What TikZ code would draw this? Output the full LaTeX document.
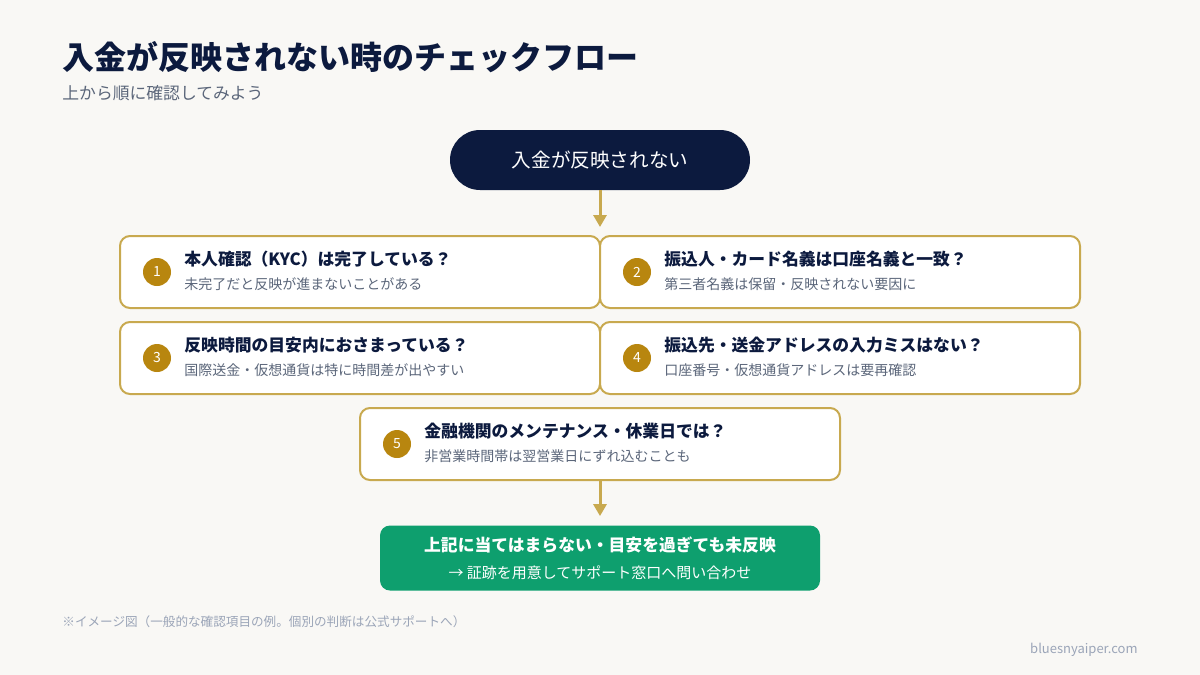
\documentclass[tikz,border=0pt]{standalone}
\usepackage{fontspec}
\setmainfont{Noto Sans CJK JP}
\usepackage{xcolor}
\usetikzlibrary{arrows.meta,positioning}

\definecolor{navy}{HTML}{0C1A3E}
\definecolor{gold}{HTML}{C8A94F}
\definecolor{numgold}{HTML}{B8860F}
\definecolor{okgreen}{HTML}{0E9F6E}
\definecolor{subgrey}{HTML}{5B667A}
\definecolor{footgrey}{HTML}{9BA5B8}
\definecolor{paper}{HTML}{F9F8F5}

\begin{document}
\begin{tikzpicture}[
    x=0.5pt, y=-0.5pt,
    flow/.style={draw=gold, line width=1.5pt, -{Triangle[width=6.5pt,length=6pt]}},
    chk/.style={draw=gold, line width=1pt, fill=white, rounded corners=5pt,
                minimum width=240pt, minimum height=36pt},
    num/.style={circle, fill=numgold, text=white, minimum size=14pt, inner sep=0pt,
                font=\fontsize{7}{8}\selectfont},
    qtxt/.style={anchor=west, inner sep=0pt, text=navy, font=\fontsize{8.4}{10}\selectfont\bfseries},
    htxt/.style={anchor=west, inner sep=0pt, text=subgrey, font=\fontsize{7}{8}\selectfont}
]
    \fill[paper] (0,0) rectangle (1200,675);
    \useasboundingbox (0,0) rectangle (1200,675);

    % heading
    \node[anchor=west, inner sep=0pt, text=navy, font=\fontsize{16}{19}\selectfont\bfseries]
        (title) at (62,57) {入金が反映されない時のチェックフロー};
    \node[anchor=west, inner sep=0pt, text=subgrey, font=\fontsize{8.4}{10}\selectfont]
        (sub) at (62,93) {上から順に確認してみよう};

    % start
    \node[rounded corners=15pt, fill=navy, text=white, minimum width=150pt,
          minimum height=30pt, font=\fontsize{9.8}{12}\selectfont] (start) at (600,160) {入金が反映されない};

    % checks
    \node[chk] (b1) at (360,272) {};
    \node[chk] (b2) at (840,272) {};
    \node[chk] (b3) at (360,358) {};
    \node[chk] (b4) at (840,358) {};
    \node[chk] (b5) at (600,444) {};

    \node[num] (n1) at (157,272) {1};
    \node[num] (n2) at (637,272) {2};
    \node[num] (n3) at (157,358) {3};
    \node[num] (n4) at (637,358) {4};
    \node[num] (n5) at (397,444) {5};

    \node[qtxt] (q1) at (184,259) {本人確認（KYC）は完了している？};
    \node[htxt] (h1) at (184,284) {未完了だと反映が進まないことがある};
    \node[qtxt] (q2) at (664,259) {振込人・カード名義は口座名義と一致？};
    \node[htxt] (h2) at (664,284) {第三者名義は保留・反映されない要因に};
    \node[qtxt] (q3) at (184,345) {反映時間の目安内におさまっている？};
    \node[htxt] (h3) at (184,370) {国際送金・仮想通貨は特に時間差が出やすい};
    \node[qtxt] (q4) at (664,345) {振込先・送金アドレスの入力ミスはない？};
    \node[htxt] (h4) at (664,370) {口座番号・仮想通貨アドレスは要再確認};
    \node[qtxt] (q5) at (424,431) {金融機関のメンテナンス・休業日では？};
    \node[htxt] (h5) at (424,456) {非営業時間帯は翌営業日にずれ込むことも};

    % result
    \node[rounded corners=5pt, fill=okgreen, text=white, minimum width=220pt,
          minimum height=32.5pt, align=center, inner sep=0pt] (res) at (600,558)
        {{\fontsize{8.4}{10}\selectfont\bfseries 上記に当てはまらない・目安を過ぎても未反映}\\[1.5pt]
         {\fontsize{7.5}{9}\selectfont → 証跡を用意してサポート窓口へ問い合わせ}};

    \draw[flow, shorten >=4pt] (start) -- (start |- b1.north);
    \draw[flow, shorten >=4.5pt] (b5) -- (res);

    % footer
    \node[anchor=west, inner sep=0pt, text=footgrey, font=\fontsize{6.3}{8}\selectfont]
        (note) at (62,622) {※イメージ図（一般的な確認項目の例。個別の判断は公式サポートへ）};
    \node[anchor=east, inner sep=0pt, text=footgrey, font=\fontsize{6.5}{8}\selectfont]
        (site) at (1138,650) {bluesnyaiper.com};
\end{tikzpicture}
\end{document}
